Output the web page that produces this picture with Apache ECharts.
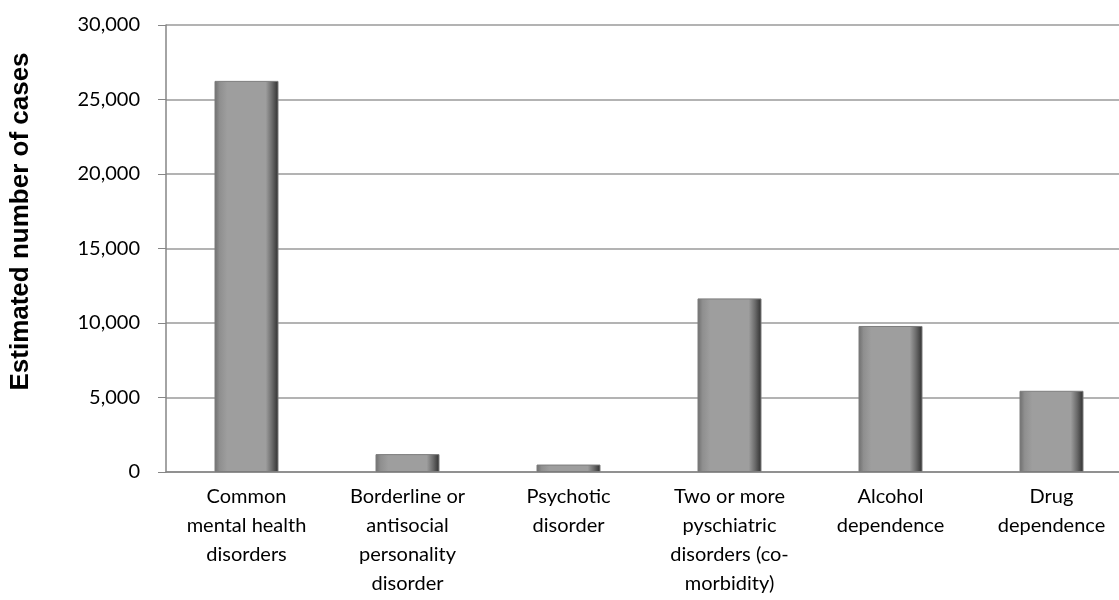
<!DOCTYPE html>
<html>
<head>
<meta charset="utf-8">
<script src="https://cdn.jsdelivr.net/npm/echarts@6/dist/echarts.min.js"></script>
<style>
html,body{margin:0;padding:0;background:#fff;overflow:hidden;}
/* plot runs past the right edge of the window, like the original */
#chart{width:1132px;height:600px;}
</style>
</head>
<body>
<div id="chart"></div>
<script>
var categories = [
    'Common\nmental health\ndisorders',
    'Borderline or\nantisocial\npersonality\ndisorder',
    'Psychotic\ndisorder',
    'Two or more\npyschiatric\ndisorders (co-\nmorbidity)',
    'Alcohol\ndependence',
    'Drug\ndependence'
];
var cases = [26250, 1200, 500, 11650, 9800, 5450];

var chart = echarts.init(document.getElementById('chart'));
// bevelled grey bars
var barColor = new echarts.graphic.LinearGradient(0, 0, 1, 0, [
    { offset: 0, color: '#6e6e6e' },
    { offset: 0.08, color: '#8f8f8f' },
    { offset: 0.2, color: '#9e9e9e' },
    { offset: 0.8, color: '#9e9e9e' },
    { offset: 0.9, color: '#6a6a6a' },
    { offset: 1, color: '#2e2e2e' }
]);
var option = {
    animation: false,
    grid: { left: 166, right: 0, top: 25, bottom: 128 },
    xAxis: {
        type: 'category',
        data: categories,
        axisLine: { lineStyle: { color: '#868686', width: 1.5 } },
        axisTick: { length: 8, lineStyle: { color: '#868686' } },
        axisLabel: {
            color: '#000',
            fontFamily: 'Lato',
            fontSize: 20,
            lineHeight: 29,
            margin: 10,
            interval: 0
        }
    },
    yAxis: {
        type: 'value',
        min: 0,
        max: 30000,
        interval: 5000,
        name: 'Estimated number of cases',
        nameLocation: 'middle',
        nameGap: 132,
        nameTextStyle: { color: '#000', fontFamily: 'Liberation Sans', fontWeight: 'bold', fontSize: 26, padding: [0, 0, 0, 54] },
        axisLine: { show: true, lineStyle: { color: '#868686', width: 1.5 } },
        axisTick: { show: true, length: 8, lineStyle: { color: '#868686' } },
        axisLabel: {
            color: '#000',
            fontFamily: 'Lato',
            fontSize: 20,
            margin: 26,
            formatter: function (v) { return v.toLocaleString('en-US'); }
        },
        splitLine: { lineStyle: { color: '#9a9a9a', width: 1.5 } }
    },
    series: [{
        type: 'bar',
        data: cases,
        barWidth: 64,
        itemStyle: { color: barColor, borderColor: '#7d7d7d', borderWidth: 1 }
    }]
};
chart.setOption(option);
</script>
</body>
</html>
